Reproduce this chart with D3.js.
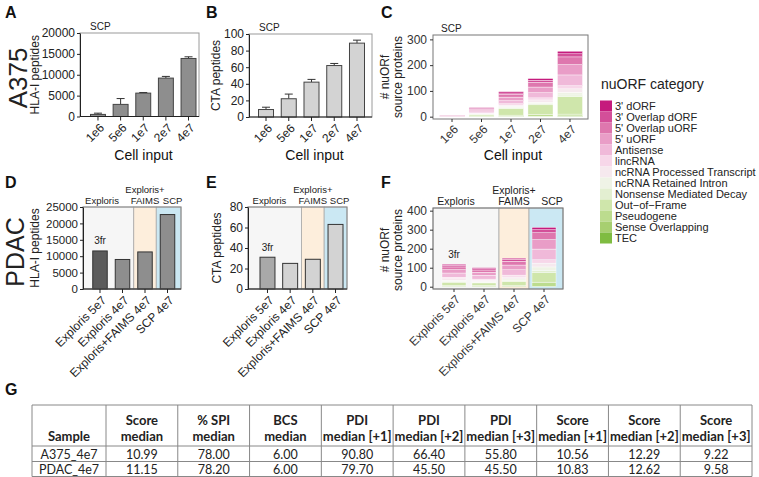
<!DOCTYPE html>
<html><head><meta charset="utf-8">
<script src="https://cdn.jsdelivr.net/npm/d3@7"></script>
<style>body{margin:0;background:#fff} svg{display:block;font-family:Arial,"Liberation Sans",sans-serif}</style>
</head><body><svg id="c" width="759" height="477"></svg>
<script>
// ---------- DATA ----------
const cellInputs = ["1e6","5e6","1e7","2e7","4e7"];
const a375HLA = [500, 2900, 5600, 9200, 13900];
const a375HLAErr = [300, 1400, 150, 400, 400];
const a375CTA = [9, 22, 42, 62, 89];
const a375CTAErr = [2.8, 5.6, 3.3, 2.5, 3.6];
const a375HLATicks = [0, 5000, 10000, 15000, 20000];
const a375CTATicks = [0, 20, 40, 60, 80, 100];
const a375NuorfTicks = [0, 100, 200, 300];

const pdacSamples = ["Exploris 5e7","Exploris 4e7","Exploris+FAIMS 4e7","SCP 4e7"];
const pdacHLA = [11600, 9000, 11300, 22700];
const pdacCTA = [31, 25, 29, 63];
const pdacHLATicks = [0, 5000, 10000, 15000, 20000, 25000];
const pdacCTATicks = [0, 20, 40, 60, 80];
const pdacNuorfTicks = [0, 100, 200, 300, 400];
const instrumentGroups = [["Exploris"], ["Exploris+","FAIMS"], ["SCP"]];
const sampleGroup = [0, 0, 1, 2];
const groupFill = ["#f6f6f6", "#fdeedc", "#cbe8f3"];

const nuorfCategories = ["3' dORF","3' Overlap dORF","5' Overlap uORF","5' uORF","Antisense","lincRNA",
  "ncRNA Processed Transcript","ncRNA Retained Intron","Nonsense Mediated Decay","Out\u2212of\u2212Frame",
  "Pseudogene","Sense Overlapping","TEC"];
const nuorfColors = ["#c51b7d","#d34f99","#de77ae","#e99dc7","#f0b9d9","#f7d7e9","#f6e9ee",
  "#eff3e6","#e3efd1","#cfe6ab","#bcdc8e","#a7cf70","#7fbc41"];
// rows = categories, columns = cellInputs
const nuorfA375 = [
  [0, 3, 5, 7, 10],
  [1, 3, 6, 8, 12],
  [2, 5, 10, 18, 30],
  [2, 5, 14, 22, 40],
  [1, 4, 12, 20, 42],
  [0, 2, 5, 8, 12],
  [0, 2, 6, 9, 14],
  [0, 1, 4, 6, 10],
  [0, 1, 3, 4, 6],
  [0, 6, 26, 38, 68],
  [0, 2, 4, 6, 7],
  [0, 1, 1, 1, 2],
  [0, 0, 1, 1, 1]
];
// rows = categories, columns = pdacSamples
const nuorfPDAC = [
  [6, 5, 6, 12],
  [8, 7, 10, 16],
  [14, 12, 20, 36],
  [18, 16, 25, 50],
  [22, 20, 28, 56],
  [8, 6, 10, 18],
  [8, 6, 10, 20],
  [6, 5, 8, 18],
  [4, 3, 5, 10],
  [16, 14, 20, 52],
  [6, 5, 7, 22],
  [1, 1, 1, 2],
  [1, 0, 0, 0]
];

const tableHeader = [["Sample"],["Score","median"],["% SPI","median"],["BCS","median"],
  ["PDI","median [+1]"],["PDI","median [+2]"],["PDI","median [+3]"],
  ["Score","median [+1]"],["Score","median [+2]"],["Score","median [+3]"]];
const tableRows = [
  ["A375_4e7","10.99","78.00","6.00","90.80","66.40","55.80","10.56","12.29","9.22"],
  ["PDAC_4e7","11.15","78.20","6.00","79.70","45.50","45.50","10.83","12.62","9.58"]
];

// ---------- DRAW ----------
const FONT = "Arial, 'Liberation Sans', sans-serif";
const svg = d3.select("#c");

function txt(x, y, s, o = {}) {
  const t = svg.append("text").attr("x", x).attr("y", y).text(s)
    .attr("font-size", o.size || 12).attr("fill", o.fill || "#222")
    .attr("font-family", o.family || FONT)
    .attr("text-anchor", o.anchor || "start");
  if (o.weight) t.attr("font-weight", o.weight);
  if (o.rot) t.attr("transform", `rotate(${o.rot},${x},${y})`);
  return t;
}

function styleAxis(g, size, color) {
  g.attr("font-family", FONT);
  g.selectAll("text").attr("font-size", size).attr("fill", color).attr("font-family", FONT);
  g.selectAll("line").attr("stroke", color);
  g.select(".domain").attr("stroke", color);
}

function rotLabels(g, size, color, dx, dy) {
  g.selectAll(".tick text").attr("x", 0).attr("y", 0).attr("dy", "0.35em")
    .attr("text-anchor", "end").attr("font-size", size).attr("fill", color)
    .attr("transform", `translate(${dx},${dy}) rotate(-45)`);
}

// Panel letters
[["A",5,18],["B",206,18],["C",381,18],["D",5,188],["E",206,188],["F",381,188],["G",5,395]]
  .forEach(([l,x,y]) => txt(x, y, l, {size: 16, weight: "bold", fill: "#111"}));
txt(27, 78, "A375", {size: 26, anchor: "middle", rot: -90, fill: "#222"});
txt(24, 252, "PDAC", {size: 25, anchor: "middle", rot: -90, fill: "#222"});

// Simple bar panel (A, B)
function simpleBars(cfg) {
  const {left, right, top, bottom, cats, vals, errs, domain, ticks, fill, range, pad, title, titleX} = cfg;
  const x = d3.scaleBand().domain(cats).range(range).paddingInner(pad);
  const y = d3.scaleLinear().domain(domain).range([bottom, top]);
  svg.append("rect").attr("x", left).attr("y", top).attr("width", right - left).attr("height", bottom - top)
    .attr("fill", "none").attr("stroke", "#9a9a9a").attr("stroke-width", 1);
  const g = svg.append("g");
  g.selectAll(".err").data(cats).join("g").each(function(c, i) {
    const cx = x(c) + x.bandwidth() / 2;
    const s = d3.select(this);
    s.append("line").attr("x1", cx).attr("x2", cx).attr("y1", y(vals[i])).attr("y2", y(vals[i] + errs[i])).attr("stroke", "#333");
    s.append("line").attr("x1", cx - 4).attr("x2", cx + 4).attr("y1", y(vals[i] + errs[i])).attr("y2", y(vals[i] + errs[i])).attr("stroke", "#333");
  });
  g.selectAll("rect").data(cats).join("rect")
    .attr("x", c => x(c)).attr("width", x.bandwidth())
    .attr("y", (c, i) => y(vals[i])).attr("height", (c, i) => bottom - y(vals[i]))
    .attr("fill", fill).attr("stroke", "#444").attr("stroke-width", 1);
  const ya = svg.append("g").attr("transform", `translate(${left},0)`)
    .call(d3.axisLeft(y).tickValues(ticks).tickSize(3).tickPadding(2).tickSizeOuter(0).tickFormat(d3.format("d")));
  styleAxis(ya, 12, "#222");
  const xa = svg.append("g").attr("transform", `translate(0,${bottom})`)
    .call(d3.axisBottom(x).tickSize(4).tickSizeOuter(0));
  xa.select(".domain").remove();
  styleAxis(xa, 12, "#222");
  rotLabels(xa, 12, "#222", 4, 9);
  svg.append("line").attr("x1", left).attr("x2", right).attr("y1", bottom).attr("y2", bottom).attr("stroke", "#222");
  txt(titleX, (top + bottom) / 2, title, {size: 12, anchor: "middle", rot: -90});
  txt(left + 10, top - 3, "SCP", {size: 10});
  txt((left + right) / 2 + 4, 160, "Cell input", {size: 14, anchor: "middle", fill: "#111"});
}

simpleBars({left: 80, right: 199, top: 33, bottom: 116.5, cats: cellInputs, vals: a375HLA, errs: a375HLAErr,
  domain: [0, 20000], ticks: a375HLATicks, fill: "#8e8e8e", range: [90.5, 196], pad: 0.34,
  title: "HLA-I peptides", titleX: 39});
simpleBars({left: 249, right: 372, top: 34, bottom: 117, cats: cellInputs, vals: a375CTA, errs: a375CTAErr,
  domain: [0, 100], ticks: a375CTATicks, fill: "#d3d3d3", range: [258.5, 364.5], pad: 0.34,
  title: "CTA peptides", titleX: 220});

// Stacked panels (C, F)
function stacked(cfg) {
  const {left, right, top, bottom, cats, matrix, domain, ticks, range, pad, groups} = cfg;
  const x = d3.scaleBand().domain(cats).range(range).paddingInner(pad);
  const y = d3.scaleLinear().domain(domain).range([bottom, top]);
  if (groups) drawGroups(x, cats, left, right, top, bottom, true);
  else svg.append("rect").attr("x", left).attr("y", top).attr("width", right - left).attr("height", bottom - top).attr("fill", "#fff");
  const rows = cats.map((c, j) => {
    const o = {cat: c};
    nuorfCategories.forEach((k, i) => o[k] = matrix[i][j]);
    return o;
  });
  const keys = nuorfCategories.slice().reverse();
  const series = d3.stack().keys(keys)(rows);
  svg.append("g").selectAll("g").data(series).join("g")
    .attr("fill", s => nuorfColors[nuorfCategories.indexOf(s.key)])
    .selectAll("rect").data(s => s).join("rect")
    .attr("x", d => x(d.data.cat)).attr("width", x.bandwidth())
    .attr("y", d => y(d[1])).attr("height", d => Math.max(0, y(d[0]) - y(d[1])))
    .attr("stroke", "#fff").attr("stroke-width", 0.4);
  svg.append("rect").attr("x", left).attr("y", top).attr("width", right - left).attr("height", bottom - top)
    .attr("fill", "none").attr("stroke", "#777").attr("stroke-width", 1);
  const ya = svg.append("g").attr("transform", `translate(${left},0)`)
    .call(d3.axisLeft(y).tickValues(ticks).tickSize(3).tickSizeOuter(0));
  ya.select(".domain").remove();
  styleAxis(ya, 12, "#333");
  const xa = svg.append("g").attr("transform", `translate(0,${bottom})`)
    .call(d3.axisBottom(x).tickSize(3).tickSizeOuter(0));
  xa.select(".domain").remove();
  styleAxis(xa, 12, "#333");
  return {x, y, xa};
}

function drawGroups(x, cats, left, right, top, bottom, isF) {
  const bw = x.bandwidth();
  const edges = [left];
  for (let i = 0; i < cats.length - 1; i++) {
    if (sampleGroup[i] !== sampleGroup[i + 1]) edges.push((x(cats[i]) + bw + x(cats[i + 1])) / 2);
  }
  edges.push(right);
  for (let gi = 0; gi < edges.length - 1; gi++) {
    svg.append("rect").attr("x", edges[gi]).attr("y", top).attr("width", edges[gi + 1] - edges[gi])
      .attr("height", bottom - top).attr("fill", groupFill[gi]).attr("stroke", "#aaa").attr("stroke-width", 0.8);
    const firstIdx = sampleGroup.indexOf(gi);
    let cx = x(cats[firstIdx]) + bw / 2 + (gi === 0 ? 2 : 0);
    if (gi === 2) cx = (edges[gi] + edges[gi + 1]) / 2 + (isF ? 6 : 4);
    const lines = instrumentGroups[gi];
    lines.forEach((l, li) => txt(cx, top - 3 - (lines.length - 1 - li) * 11, l,
      {size: isF ? 10.5 : 9.5, anchor: "middle", fill: "#222"}));
  }
}

// C
const C = stacked({left: 433, right: 588, top: 35, bottom: 119, cats: cellInputs, matrix: nuorfA375,
  domain: [-9, 317], ticks: a375NuorfTicks, range: [439.5, 582.5], pad: 0.15});
rotLabels(C.xa, 12, "#333", 4, 8);
txt(389, 77, "# nuORf", {size: 12, anchor: "middle", rot: -90});
txt(402, 77, "source proteins", {size: 12, anchor: "middle", rot: -90});
txt(441, 32, "SCP", {size: 10});
txt(513, 160, "Cell input", {size: 14, anchor: "middle", fill: "#111"});

// Legend
txt(601, 89, "nuORF category", {size: 14, fill: "#222"});
nuorfCategories.forEach((c, i) => {
  svg.append("rect").attr("x", 600).attr("y", 100.5 + i * 11).attr("width", 12).attr("height", 11).attr("fill", nuorfColors[i]);
  txt(615, 109.5 + i * 11, c, {size: 11, fill: "#222"});
});

// Grouped simple bars (D, E)
function groupedBars(cfg) {
  const {left, right, top, bottom, vals, domain, ticks, fills, range, pad, title, titleX, fontSize} = cfg;
  const x = d3.scaleBand().domain(pdacSamples).range(range).paddingInner(pad);
  const y = d3.scaleLinear().domain(domain).range([bottom, top]);
  drawGroups(x, pdacSamples, left, right, top, bottom, false);
  svg.append("g").selectAll("rect").data(pdacSamples).join("rect")
    .attr("x", c => x(c)).attr("width", x.bandwidth())
    .attr("y", (c, i) => y(vals[i])).attr("height", (c, i) => bottom - y(vals[i]))
    .attr("fill", (c, i) => fills[i]).attr("stroke", "#333").attr("stroke-width", 1);
  svg.append("rect").attr("x", left).attr("y", top).attr("width", right - left).attr("height", bottom - top)
    .attr("fill", "none").attr("stroke", "#888");
  const ya = svg.append("g").attr("transform", `translate(${left},0)`)
    .call(d3.axisLeft(y).tickValues(ticks).tickSize(3).tickPadding(2).tickSizeOuter(0).tickFormat(d3.format("d")));
  styleAxis(ya, fontSize, "#222");
  const xa = svg.append("g").attr("transform", `translate(0,${bottom})`)
    .call(d3.axisBottom(x).tickSize(4).tickSizeOuter(0));
  xa.select(".domain").remove();
  styleAxis(xa, 12, "#222");
  rotLabels(xa, 12, "#222", 4, 9);
  svg.append("line").attr("x1", left).attr("x2", right).attr("y1", bottom).attr("y2", bottom).attr("stroke", "#222");
  txt(titleX, (top + bottom) / 2, title, {size: 12, anchor: "middle", rot: -90});
  txt(x(pdacSamples[0]) + x.bandwidth() / 2, y(vals[0]) - 6.5, "3fr", {size: 10, anchor: "middle"});
}

groupedBars({left: 83, right: 181, top: 207, bottom: 289, vals: pdacHLA, domain: [0, 25000], ticks: pdacHLATicks,
  fills: ["#5b5b5b", "#8e8e8e", "#8e8e8e", "#8e8e8e"], range: [92.75, 174.75], pad: 0.356,
  title: "HLA-I peptides", titleX: 39, fontSize: 11.5});
groupedBars({left: 248, right: 347, top: 207, bottom: 289, vals: pdacCTA, domain: [0, 80], ticks: pdacCTATicks,
  fills: ["#a9a9a9", "#d3d3d3", "#d3d3d3", "#d3d3d3"], range: [260, 343], pad: 0.34,
  title: "CTA peptides", titleX: 221, fontSize: 12});

// F
const F = stacked({left: 433, right: 563, top: 208, bottom: 289, cats: pdacSamples, matrix: nuorfPDAC,
  domain: [-12, 414], ticks: pdacNuorfTicks, range: [442, 556], pad: 0.2, groups: true});
rotLabels(F.xa, 12, "#333", 4, 8);
txt(389, 250, "# nuORf", {size: 12, anchor: "middle", rot: -90});
txt(402, 250, "source proteins", {size: 12, anchor: "middle", rot: -90});
{
  const tot = pdacSamples.map((s, j) => d3.sum(nuorfPDAC, r => r[j]));
  txt(F.x(pdacSamples[0]) + F.x.bandwidth() / 2, F.y(tot[0]) - 6.5, "3fr", {size: 10, anchor: "middle"});
}

// Table G
const tLeft = 32, tRight = 752, sampleW = 74;
const colEdges = [tLeft, tLeft + sampleW];
const otherW = (tRight - tLeft - sampleW) / (tableHeader.length - 1);
for (let i = 1; i < tableHeader.length; i++) colEdges.push(tLeft + sampleW + otherW * i);
const rowEdges = [405, 446, 461.5, 476.5];
const tg = svg.append("g").attr("font-family", "Lato, 'Liberation Sans', sans-serif");
rowEdges.forEach(yv => tg.append("line").attr("x1", tLeft).attr("x2", tRight).attr("y1", yv).attr("y2", yv).attr("stroke", "#888"));
colEdges.forEach(xv => tg.append("line").attr("x1", xv).attr("x2", xv).attr("y1", rowEdges[0]).attr("y2", rowEdges[3]).attr("stroke", "#888"));
tableHeader.forEach((h, i) => {
  const cx = (colEdges[i] + colEdges[i + 1]) / 2;
  const lines = h.length === 1 ? [[h[0], 441]] : [[h[0], 424.5], [h[1], 441]];
  lines.forEach(([s, yy]) => tg.append("text").attr("x", cx).attr("y", yy).attr("text-anchor", "middle")
    .attr("font-size", 13).attr("font-weight", "bold").attr("fill", "#222").text(s));
});
tableRows.forEach((r, ri) => r.forEach((v, i) => {
  const cx = (colEdges[i] + colEdges[i + 1]) / 2;
  tg.append("text").attr("x", cx).attr("y", [458.5, 473.5][ri]).attr("text-anchor", "middle")
    .attr("font-size", 12.5).attr("fill", "#222").text(v);
}));
</script></body></html>
